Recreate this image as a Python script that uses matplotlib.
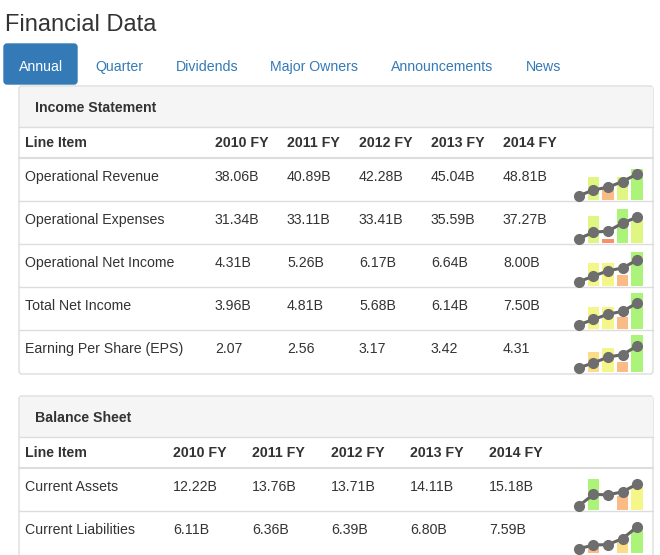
import matplotlib
matplotlib.use("Agg")
import matplotlib.pyplot as plt
import matplotlib.patches as mpatches

W, H = 660, 555
plt.rcParams["font.family"] = ["Liberation Sans", "DejaVu Sans"]

# ── Data ──────────────────────────────────────────────────────────────────────
TABS = ["Annual", "Quarter", "Dividends", "Major Owners", "Announcements", "News"]
TAB_X = [41, 95, 176, 270, 391, 526]

YEARS = ["2010 FY", "2011 FY", "2012 FY", "2013 FY", "2014 FY"]

income_items = ["Operational Revenue", "Operational Expenses", "Operational Net Income",
                "Total Net Income", "Earning Per Share (EPS)"]
income_vals = [
    [38.06, 40.89, 42.28, 45.04, 48.81],
    [31.34, 33.11, 33.41, 35.59, 37.27],
    [4.31, 5.26, 6.17, 6.64, 8.00],
    [3.96, 4.81, 5.68, 6.14, 7.50],
    [2.07, 2.56, 3.17, 3.42, 4.31],
]
income_suffix = ["B", "B", "B", "B", ""]

balance_items = ["Current Assets", "Current Liabilities"]
balance_vals = [
    [12.22, 13.76, 13.71, 14.11, 15.18],
    [6.11, 6.36, 6.39, 6.80, 7.59],
]

# sparkline bar heights (fraction of row) and colours, years 2011-2014
GREEN, YGREEN, YELLOW = "#a3f26a", "#dcf575", "#f3f67a"
ORANGE, RED, LORANGE = "#fbb47a", "#f7855c", "#fcd97a"
income_bars = [
    [0.57, 0.28, 0.57, 0.78],
    [0.67, 0.10, 0.84, 0.63],
    [0.58, 0.57, 0.28, 0.84],
    [0.55, 0.55, 0.29, 0.90],
    [0.50, 0.61, 0.24, 0.92],
]
income_bar_colors = [
    [YGREEN, ORANGE, YGREEN, GREEN],
    [YGREEN, RED, GREEN, YGREEN],
    [YELLOW, YELLOW, ORANGE, GREEN],
    [YELLOW, YELLOW, ORANGE, GREEN],
    [LORANGE, YELLOW, ORANGE, GREEN],
]
balance_bars = [
    [0.78, 0.0, 0.35, 0.60],
    [0.12, 0.0, 0.29, 0.59],
]
balance_bar_colors = [
    [GREEN, GREEN, ORANGE, YELLOW],
    [ORANGE, ORANGE, LORANGE, GREEN],
]

# ── Canvas ────────────────────────────────────────────────────────────────────
fig = plt.figure(figsize=(W / 100, H / 100), dpi=100)
ax = fig.add_axes([0, 0, 1, 1])
ax.set_xlim(0, W)
ax.set_ylim(H, 0)
ax.axis("off")

TXT = "#333333"
BLUE = "#337ab7"
BORDER = "#dddddd"
FS = 10.2

ax.text(5, 25, "Financial Data", fontsize=17, color=TXT, va="center")

# tabs
ax.add_patch(mpatches.FancyBboxPatch((4, 44), 73, 40, boxstyle="round,pad=0,rounding_size=3",
                                     fc=BLUE, ec=BLUE))
for i, (t, x) in enumerate(zip(TABS, TAB_X)):
    ax.text(x, 67, t, fontsize=FS, color="white" if i == 0 else BLUE,
            ha="center" if i == 0 else "left", va="center")


def sparkline(x0, y_bottom, h, vals, bars, colors):
    w = 74
    sax = fig.add_axes([x0 / W, 1 - y_bottom / H, w / W, h / H])
    sax.set_xlim(-0.55, 4.55)
    sax.set_ylim(0, 1)
    sax.axis("off")
    sax.bar(range(1, 5), bars, width=0.78, color=colors, alpha=0.9)
    lax = sax.twinx()
    lo, hi = min(vals), max(vals)
    span = hi - lo
    lax.set_ylim(lo - 0.2 * span, hi + 0.65 * span)
    lax.axis("off")
    lax.plot(range(5), vals, color="#666666", lw=2.2, marker="o", ms=7,
             mfc="#6e6e6e", mec="#6e6e6e", clip_on=False)


def panel(top, bottom, title, items, vals, suffixes, col_x, bars, bar_colors, row_h):
    ax.add_patch(mpatches.FancyBboxPatch((19, top), 634, bottom - top,
                                         boxstyle="round,pad=0,rounding_size=3",
                                         fc="white", ec=BORDER, lw=1))
    ax.add_patch(mpatches.Rectangle((19.5, top + 0.5), 633, 40.5, fc="#f5f5f5", ec="none"))
    ax.plot([19, 653], [top + 41, top + 41], color=BORDER, lw=1)
    ax.text(35, top + 22, title, fontsize=FS, fontweight="bold", color=TXT, va="center")
    hy = top + 57
    ax.text(25, hy, "Line Item", fontsize=FS, fontweight="bold", color=TXT, va="center")
    for yr, x in zip(YEARS, col_x):
        ax.text(x, hy, yr, fontsize=FS, fontweight="bold", color=TXT, va="center")
    y = top + 72
    for i, item in enumerate(items):
        ax.plot([19, 653], [y, y], color=BORDER, lw=1.5 if i == 0 else 1)
        cy = y + 19
        ax.text(25, cy, item, fontsize=FS, color=TXT, va="center")
        for v, x in zip(vals[i], col_x):
            s = f"{v:.2f}{suffixes[i]}"
            ax.text(x, cy, s, fontsize=FS, color=TXT, va="center")
        sparkline(571, y + row_h - 1, row_h - 3, vals[i], bars[i], bar_colors[i])
        y += row_h


panel(86, 374, "Income Statement", income_items, income_vals, income_suffix,
      [215, 287, 359, 431, 503], income_bars, income_bar_colors, 43)
panel(396, 580, "Balance Sheet", balance_items, balance_vals, ["B", "B"],
      [173, 252, 331, 410, 489], balance_bars, balance_bar_colors, 43)

fig.savefig("out.png", dpi=100)
